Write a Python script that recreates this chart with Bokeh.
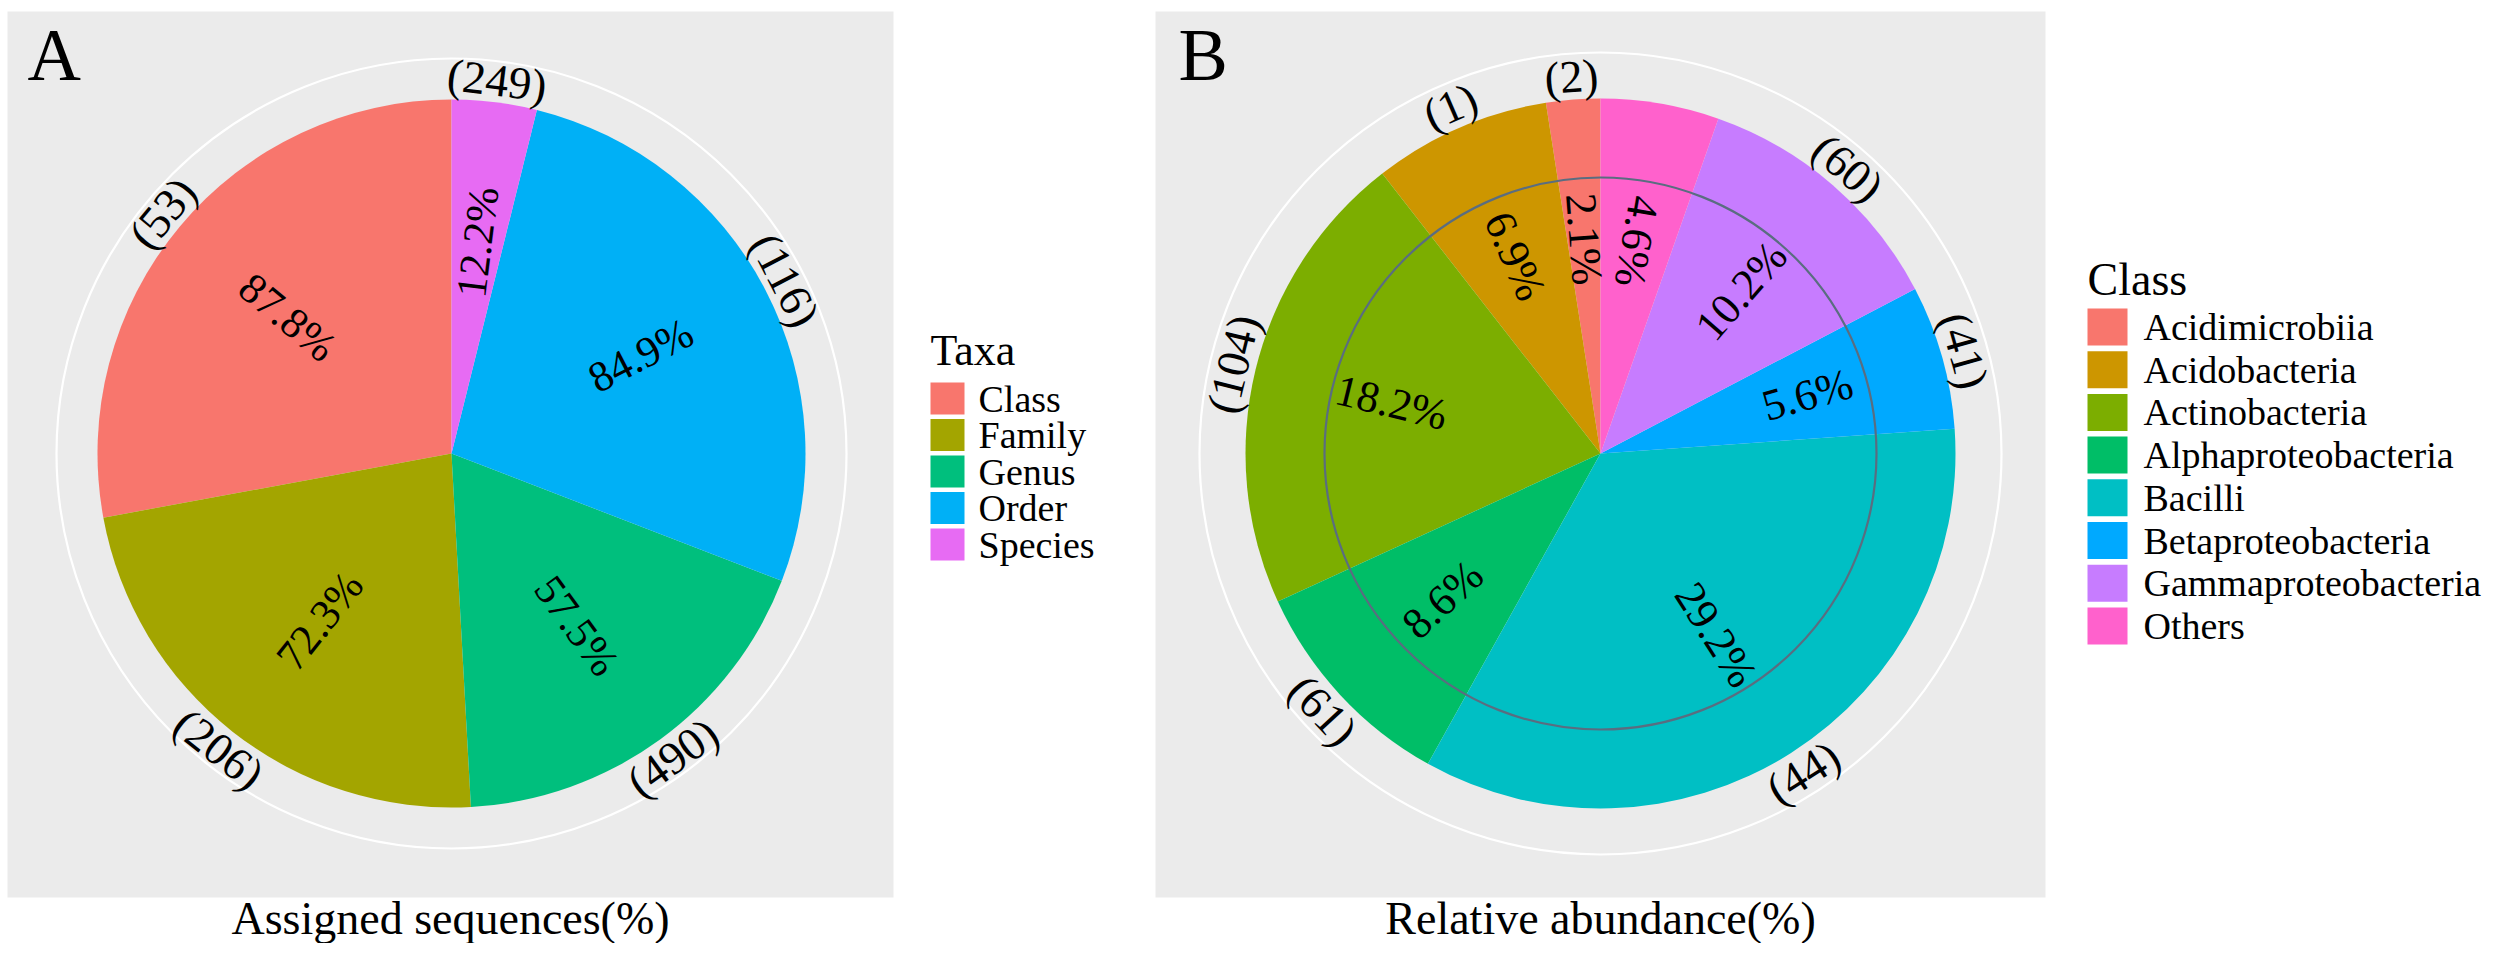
import numpy as np
from bokeh.plotting import figure
from bokeh.models import Range1d, ColumnDataSource
from bokeh.embed import file_html
from bokeh.resources import INLINE
from bokeh.core.properties import value

# ---------------- data ----------------
taxa = ["Class", "Family", "Genus", "Order", "Species"]
taxa_pct = [87.8, 72.3, 57.5, 84.9, 12.2]
taxa_counts = [53, 206, 490, 116, 249]
taxa_colors = ["#F8766D", "#A3A500", "#00BF7D", "#00B0F6", "#E76BF3"]

classes = ["Acidimicrobiia", "Acidobacteria", "Actinobacteria", "Alphaproteobacteria",
           "Bacilli", "Betaproteobacteria", "Gammaproteobacteria", "Others"]
class_pct = [2.1, 6.9, 18.2, 8.6, 29.2, 5.6, 10.2, 4.6]
class_counts = [2, 1, 104, 61, 44, 41, 60, None]
class_colors = ["#F8766D", "#CD9600", "#7CAE00", "#00BE67",
                "#00BFC4", "#00A9FF", "#C77CFF", "#FF61CC"]

# ---------------- canvas geometry (picture pixels, origin top-left) ----------------
W, H = 2484, 943
FONT = value("Liberation Serif")


def Y(py):
    return H - np.asarray(py, dtype=float)


p = figure(width=W, height=H, x_range=Range1d(0, W), y_range=Range1d(0, H),
           output_backend="svg", toolbar_location=None, min_border=0)
p.axis.visible = False
p.grid.visible = False
p.outline_line_color = None
p.background_fill_color = "white"
p.border_fill_color = "white"


def label(x, y, txt, size, align="left"):
    p.text(x=[x], y=[Y(y)], text=[txt], text_font=FONT, text_font_size=size,
           text_align=align, text_baseline="middle", text_color="black")


def panel(left, right, top, bottom):
    p.quad(left=[left], right=[right], top=[Y(top)], bottom=[Y(bottom)],
           fill_color="#EBEBEB", line_color=None)


def pie(cx, cy, R, ring_r, values, counts, colors, count_r, pct_r,
        pct_size, count_size, flip_small=None, inner_r=None):
    vals = np.array(values, float)
    frac = vals / vals.sum()
    n = len(vals)
    th0 = np.zeros(n)
    acc = 0.0
    for i in range(n - 1, -1, -1):  # ggplot stacking: last level first clockwise
        th0[i] = acc
        acc += frac[i] * 360.0
    th1 = th0 + frac * 360.0
    mid = (th0 + th1) / 2.0
    cyd = float(Y(cy))

    # outer white ring
    p.circle(x=[cx], y=[cyd], radius=ring_r, fill_color=None, line_color="white", line_width=2.2)

    src = ColumnDataSource(dict(
        start=np.radians(90 - th1), end=np.radians(90 - th0), color=colors))
    p.wedge(x=cx, y=cyd, radius=R, start_angle="start", end_angle="end",
            fill_color="color", line_color=None, source=src)

    if inner_r is not None:
        p.circle(x=[cx], y=[cyd], radius=inner_r, fill_color=None,
                 line_color="#5A6D80", line_width=2.2)

    rad = np.radians(mid)
    # percentage labels (radial)
    pang = np.where(mid < 180, 90 - mid, 270 - mid)
    if flip_small is not None:
        pang = np.where(pang > flip_small, pang - 180, pang)
    p.text(x=cx + pct_r * np.sin(rad), y=cyd + pct_r * np.cos(rad),
           text=["%.1f%%" % v for v in values], angle=np.radians(pang),
           text_font=FONT, text_font_size=pct_size, text_align="center",
           text_baseline="middle", text_color="black")

    # count labels (tangential)
    cang = np.where((mid > 90) & (mid < 270), 180 - mid, -mid)
    ctext = ["(%d)" % c if c is not None else "" for c in counts]
    p.text(x=cx + count_r * np.sin(rad), y=cyd + count_r * np.cos(rad),
           text=ctext, angle=np.radians(cang),
           text_font=FONT, text_font_size=count_size, text_align="center",
           text_baseline="middle", text_color="black")


def legend(title, labels, colors, x, title_mid, key_top, key_w, key_h, pitch,
           title_size, label_size, label_x):
    label(x, title_mid, title, title_size)
    tops = key_top + pitch * np.arange(len(labels))
    p.quad(left=x, right=x + key_w, top=Y(tops), bottom=Y(tops + key_h),
           fill_color=colors, line_color=None)
    p.text(x=label_x, y=Y(tops + key_h / 2.0), text=labels, text_font=FONT,
           text_font_size=label_size, text_align="left", text_baseline="middle",
           text_color="black")


# ---------------- panel A ----------------
panel(7, 893, 11, 897)
pie(451, 453, 354, 395, taxa_pct, taxa_counts, taxa_colors, 376, 213, "43px", "46px")
label(27, 54, "A", "74px")
label(450, 918, "Assigned sequences(%)", "46px", "center")
legend("Taxa", taxa, taxa_colors, 930, 350, 382, 34, 32, 36.5, "44px", "38px", 978)

# ---------------- panel B ----------------
panel(1155, 2045, 11, 897)
pie(1600, 453, 355, 401, class_pct, class_counts, class_colors, 378, 215, "44px", "46px",
    flip_small=75, inner_r=276)
label(1178, 54, "B", "74px")
label(1600, 918, "Relative abundance(%)", "46px", "center")
legend("Class", classes, class_colors, 2087, 279, 308, 40, 37, 42.7, "46px", "38px", 2143)

open("out.html", "w").write(file_html(p, INLINE))
